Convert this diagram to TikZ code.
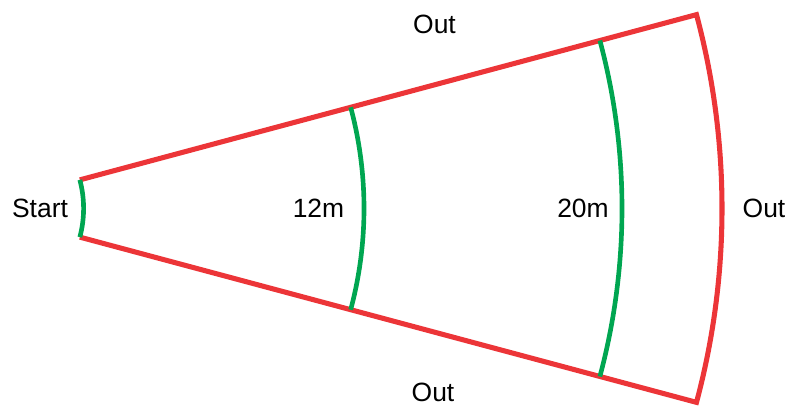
\documentclass[tikz,border=0pt]{standalone}
\usepackage{fontspec}
\setmainfont{Liberation Sans}
\usepackage{xcolor}
\usetikzlibrary{calc}
\definecolor{fanred}{HTML}{EC3538}
\definecolor{fangreen}{HTML}{00A651}
\tikzset{bound/.style={fanred,line width=3.6pt,line join=miter},
  dist/.style={fangreen,line width=3.3pt},
  lbl/.style={inner sep=0pt,font=\fontsize{18.8}{22}\selectfont}}
\begin{document}
\begin{tikzpicture}[x=0.025cm,y=0.025cm]
  \useasboundingbox (0,0) rectangle (787,407);
  % apex of the fan, off the picture
  \coordinate (apex) at (-27,198.5);
  \coordinate (ti) at ($(apex)+(15:110.6)$);
  \coordinate (bi) at ($(apex)+(-15:110.6)$);
  \coordinate (to) at ($(apex)+(15:749)$);
  \coordinate (bo) at ($(apex)+(-15:749)$);
  \draw[bound] (ti) -- (to) arc[start angle=15,end angle=-15,radius=749] -- (bi);
  \foreach \r in {110.6,391,649}
    \draw[dist] ($(apex)+(15:\r)$) arc[start angle=15,end angle=-15,radius=\r];
  \node[lbl] (start) at (40,198.3) {Start};
  \node[lbl] (d12) at (318.5,199) {12m};
  \node[lbl] (d20) at (583,199) {20m};
  \node[lbl] (outtop) at (434.5,383) {Out};
  \node[lbl] (outbot) at (433,15) {Out};
  \node[lbl] (outright) at (764,198.5) {Out};
\end{tikzpicture}
\end{document}
